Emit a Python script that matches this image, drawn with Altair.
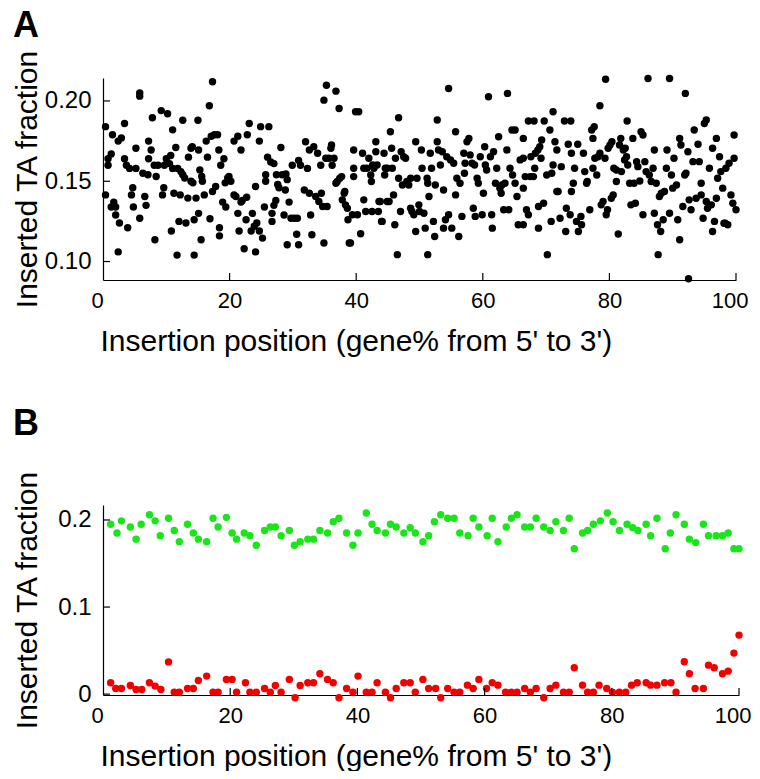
import altair as alt
import pandas as pd

# ---------------- Panel A data (black points) ----------------
a_x = [
    0.4, 0.4, 0.8, 0.8, 1.3, 1.5, 1.7, 2.0, 1.3, 2.0, 2.4, 2.4, 2.9, 2.6, 3.4, 3.4, 3.7, 3.9, 4.2, 4.5,
    4.7, 4.8, 5.2, 5.2, 5.8, 5.8, 5.8, 6.3, 6.6, 6.8, 7.1, 7.2, 7.6, 7.2, 7.8, 8.1, 8.2, 8.4, 8.7, 9.2,
    9.4, 9.6, 9.7, 10.0, 10.2, 10.5, 10.7, 10.8, 11.0, 11.0, 11.2, 11.5, 11.7, 11.8, 12.0, 12.2, 12.3, 12.6, 12.6, 12.9,
    13.1, 13.4, 13.5, 13.9, 13.9, 14.1, 14.2, 14.4, 14.4, 14.7, 15.0, 15.1, 15.1, 15.3, 15.5, 15.6, 15.7, 16.0, 16.3, 16.5,
    16.8, 16.9, 17.1, 17.3, 17.3, 17.6, 17.8, 18.1, 18.3, 18.4, 18.4, 18.6, 18.9, 19.1, 19.3, 19.4, 19.7, 19.9, 20.2, 20.7,
    20.7, 21.0, 21.3, 21.3, 21.5, 21.8, 21.8, 22.0, 22.3, 22.6, 22.7, 22.8, 23.1, 23.4, 23.6, 23.9, 24.1, 24.1, 24.3, 24.7,
    24.7, 24.9, 25.2, 25.5, 25.7, 25.7, 26.0, 26.2, 26.5, 26.7, 26.7, 27.0, 27.0, 27.3, 27.4, 27.6, 27.8, 28.1, 28.3, 28.6,
    28.8, 28.9, 29.1, 29.1, 29.4, 29.7, 29.9, 30.2, 30.6, 30.7, 30.9, 30.9, 31.2,
    31.8, 32.0, 32.3, 32.6, 32.6, 32.8, 33.0, 33.3, 33.6, 33.9, 34.1, 34.4, 34.5, 34.7, 34.9, 34.9, 35.2, 35.3, 35.4, 35.7,
    36.0, 36.1, 36.2, 36.5, 36.8, 36.8, 37.0, 37.3, 37.4, 37.7, 37.8, 38.1, 38.2, 38.3, 38.6, 38.7, 38.9, 39.1, 39.4, 39.6,
    39.6, 39.6, 39.9, 40.2, 40.4, 40.7, 41.0, 41.2, 41.2, 41.5, 41.7, 42.0, 42.3, 42.4, 42.5, 42.6, 42.8, 43.1, 43.1, 43.3,
    43.5, 43.6, 43.8, 44.0, 44.1, 44.4, 44.5, 44.6, 44.9, 44.9, 45.2, 45.4, 45.6, 45.7, 45.9, 46.1, 46.2, 46.5, 46.7, 46.7,
    47.0, 47.1, 47.3, 47.5, 47.8, 48.0, 48.3, 48.6, 48.6, 48.8, 49.1, 49.4, 49.4, 49.6, 49.9, 50.0, 50.3, 50.4, 50.7, 50.9,
    51.2, 51.3, 51.3, 51.5, 51.7, 51.9, 52.2, 52.4, 52.5, 52.8, 52.8, 53.0, 53.3, 53.6, 53.8, 53.8, 54.1, 54.3, 54.6, 54.6,
    54.9, 55.1, 55.4, 55.7, 55.7, 55.9, 56.2, 56.4, 56.7, 57.0, 57.1, 57.2, 57.5, 57.8, 58.0, 58.3, 58.5, 58.7, 58.8, 59.1,
    59.3, 59.6, 59.9, 60.1, 60.3, 60.4, 60.6, 60.9, 61.2, 61.4, 61.5, 61.7, 62.0, 62.2, 62.5, 62.7, 62.9, 63.0, 63.3, 63.5,
    63.8, 63.9, 64.1, 64.3, 64.6, 64.7, 65.1, 65.1, 65.4, 65.6, 65.9,
    66.4, 66.4, 66.4, 66.4, 66.7, 66.9, 67.2, 67.2, 67.5, 67.6, 68.0, 68.1, 68.2, 68.3, 68.7, 68.8, 68.8, 69.0, 69.2, 69.3,
    69.6, 69.7, 70.1, 70.2, 70.6, 70.8, 70.9, 71.1, 71.1, 71.4, 71.7, 71.7, 71.9, 72.2, 72.4, 72.9, 73.1, 73.2, 73.5, 73.8,
    73.9, 74.0, 74.0, 74.3, 74.5, 74.8, 75.0, 75.1, 75.5, 75.6, 75.9, 76.1, 76.4, 76.5, 76.9, 77.2, 77.4, 77.4, 77.6, 77.7,
    78.0, 78.2, 78.5, 78.5, 78.7, 79.0, 79.3, 79.4, 79.5, 79.7, 79.8, 80.1, 80.3, 80.4, 80.6, 80.7, 81.1, 81.1, 81.4, 81.6,
    81.8, 81.9, 82.2, 82.4, 82.5, 82.7, 82.8, 82.9, 83.2, 83.4, 83.7, 83.9, 84.1, 84.3, 84.5, 84.8, 85.0, 85.3, 85.3, 85.6,
    85.8, 86.1, 86.3, 86.6, 86.9, 87.1, 87.1, 87.4, 87.6, 87.7, 87.9, 88.1, 88.2, 88.5, 88.7, 89.0, 89.1, 89.5, 89.5, 89.8,
    90.0, 90.2, 90.6, 90.8, 91.1, 91.1, 91.3, 91.6, 91.9, 92.0, 92.1, 92.4, 92.5, 92.6, 92.9, 93.2, 93.4, 93.7, 94.0, 94.2,
    94.5, 94.5, 94.8, 95.0, 95.3, 95.3, 95.5, 95.8, 96.1, 96.3, 96.3, 96.6, 96.9, 96.9, 97.1, 97.4, 97.6, 97.9, 98.1, 98.3,
    98.4, 98.7, 98.9, 99.2, 99.5, 99.7, 99.7, 100.0,
]
a_y = [
    0.184, 0.1415, 0.164, 0.160, 0.167, 0.179, 0.137, 0.134, 0.134, 0.129, 0.106, 0.175, 0.177, 0.124, 0.186, 0.164, 0.160, 0.121, 0.158, 0.1415,
    0.146, 0.134, 0.158, 0.1705, 0.205, 0.203, 0.127, 0.155, 0.1405, 0.135, 0.154, 0.175, 0.1695, 0.164, 0.1895, 0.160, 0.1136, 0.153, 0.160, 0.194,
    0.1415, 0.146, 0.160, 0.164, 0.192, 0.161, 0.166, 0.119, 0.158, 0.182, 0.1425, 0.171, 0.104, 0.158, 0.125, 0.1415, 0.156, 0.188, 0.154, 0.152,
    0.124, 0.1395, 0.165, 0.1705, 0.150, 0.1715, 0.149, 0.126, 0.104, 0.1395, 0.188, 0.1695, 0.130, 0.157, 0.1136, 0.153, 0.150, 0.1415, 0.175, 0.165,
    0.197, 0.1266, 0.178, 0.212, 0.1436, 0.179, 0.1467, 0.179, 0.1695, 0.121, 0.116, 0.160, 0.137, 0.164, 0.149, 0.134, 0.152, 0.153, 0.150, 0.175,
    0.1415, 0.1405, 0.178, 0.130, 0.119, 0.1695, 0.137, 0.138, 0.108, 0.126, 0.140, 0.179, 0.186, 0.119, 0.130, 0.122, 0.106, 0.1467, 0.124, 0.175,
    0.119, 0.184, 0.1146, 0.134, 0.154, 0.150, 0.165, 0.184, 0.162, 0.130, 0.125, 0.161, 0.135, 0.138, 0.154, 0.148, 0.146, 0.171, 0.154, 0.129,
    0.1446, 0.1545, 0.1105, 0.151, 0.137, 0.127, 0.160, 0.127, 0.117, 0.127, 0.1105, 0.163, 0.160,
    0.1446, 0.1746, 0.158, 0.1695, 0.1425, 0.129, 0.1167, 0.1715, 0.1405, 0.1674, 0.1374, 0.160, 0.1425, 0.1343, 0.1115, 0.2005, 0.1643, 0.2098, 0.1343, 0.1643,
    0.1705, 0.1726, 0.160, 0.1643, 0.2061, 0.1488, 0.1498, 0.1953, 0.1519, 0.1529, 0.1384, 0.1425, 0.1436, 0.1353, 0.1332, 0.126, 0.1115, 0.1115, 0.1291, 0.1695,
    0.1581, 0.1529, 0.1933, 0.1291, 0.1933, 0.1173, 0.1674, 0.1384, 0.1581, 0.1312, 0.1581, 0.1643, 0.1539, 0.1498, 0.1312, 0.1601, 0.1581, 0.1746, 0.1684, 0.1601,
    0.1312, 0.1374, 0.1374, 0.125, 0.125, 0.1674, 0.1539, 0.1581, 0.1581, 0.1374, 0.1374, 0.1808, 0.1705, 0.1581, 0.1415, 0.1229, 0.1643, 0.1043, 0.1895, 0.1519,
    0.1312, 0.1684, 0.1477, 0.1653, 0.1643, 0.1498, 0.1477, 0.1519, 0.1332, 0.1312, 0.1291, 0.1746, 0.1187, 0.1519, 0.1353, 0.1312, 0.1695, 0.1581, 0.1301, 0.1208,
    0.1519, 0.1488, 0.1043, 0.1405, 0.1674, 0.1581, 0.125, 0.1156, 0.1477, 0.1881, 0.1746, 0.1695, 0.1601, 0.1684, 0.1446, 0.1208, 0.126, 0.1653, 0.2078, 0.1291,
    0.1633, 0.1208, 0.1612, 0.1808, 0.1415, 0.1519, 0.1156, 0.1488, 0.1281, 0.1674, 0.155, 0.1612, 0.1746, 0.1767, 0.1664, 0.1612, 0.1332, 0.1601, 0.1281, 0.1519,
    0.1488, 0.1653, 0.1291, 0.1425, 0.1715, 0.1601, 0.157, 0.2026, 0.1653, 0.1291, 0.1208, 0.1684, 0.1488, 0.1581, 0.1777, 0.1457, 0.1425, 0.1477, 0.1322, 0.1488,
    0.1695, 0.2047, 0.1322, 0.1581, 0.1819, 0.1539, 0.1819, 0.1488, 0.1405, 0.1229, 0.1633,
    0.1767, 0.1643, 0.1457, 0.1229, 0.1529, 0.1322, 0.1291, 0.1875, 0.1529, 0.1653, 0.1529, 0.1875, 0.1581, 0.1674, 0.1695, 0.1208, 0.1343, 0.1715, 0.1643, 0.1757,
    0.1363, 0.1875, 0.1539, 0.1043, 0.1819, 0.125, 0.155, 0.1601, 0.1933, 0.1746, 0.1695, 0.1436, 0.1436, 0.127, 0.1591, 0.1875, 0.1187, 0.1332, 0.173, 0.1291,
    0.1875, 0.1674, 0.1436, 0.1488, 0.1581, 0.125, 0.173, 0.1187, 0.1281, 0.1229, 0.1674, 0.156, 0.1488, 0.1498, 0.1322, 0.1819, 0.1581, 0.1767, 0.1839, 0.1643,
    0.1539, 0.1653, 0.197, 0.1674, 0.1353, 0.1374, 0.1643, 0.2135, 0.1291, 0.1322, 0.1705, 0.1726, 0.1394, 0.1746, 0.1415, 0.1581, 0.157, 0.1498, 0.1171, 0.1726,
    0.1767, 0.156, 0.1695, 0.1633, 0.1705, 0.1653, 0.1875, 0.1601, 0.1488, 0.1353, 0.1767, 0.1488, 0.1363, 0.1622, 0.1591, 0.1502, 0.1808, 0.1788, 0.1291, 0.1622,
    0.156, 0.214, 0.1539, 0.1498, 0.1581, 0.1695, 0.1301, 0.1488, 0.1229, 0.1043, 0.1405, 0.1187, 0.1425, 0.126, 0.1436, 0.1581, 0.1695, 0.214, 0.1301, 0.1539,
    0.1457, 0.1643, 0.1477, 0.126, 0.1767, 0.1136, 0.1726, 0.1343, 0.1539, 0.2047, 0.155, 0.1684, 0.0893, 0.1384, 0.1322, 0.1622, 0.1819, 0.1394, 0.173, 0.1622,
    0.1488, 0.1415, 0.127, 0.186, 0.1374, 0.1881, 0.1332, 0.1581, 0.1353, 0.1705, 0.1187, 0.125, 0.1767, 0.1394, 0.1519, 0.1653, 0.156, 0.1457, 0.1239, 0.1239,
    0.1581, 0.1229, 0.1612, 0.1415, 0.1363, 0.1788, 0.1643, 0.1322,
]

# ---------------- Panel B data ----------------
g_x = [
    1.2, 2.2, 2.9, 4.3, 5.2, 6.0, 7.3, 8.2, 9.0, 10.3, 11.2, 12.0, 13.3, 14.2, 15.0, 16.3, 17.3, 18.1, 19.4, 20.3,
    21.0, 22.2, 23.1, 24.1, 25.4, 26.3, 27.1, 28.0, 29.3, 30.1, 31.0, 32.2, 33.1, 34.1, 35.3, 36.2, 37.1, 38.3, 39.3, 40.1,
    41.4, 42.3, 43.1, 44.4, 45.2, 46.1, 47.3, 48.3, 49.1, 50.3, 51.2,
    52.1, 53.1, 54.2, 55.2, 56.1, 57.4, 58.2, 59.1, 60.4, 61.2, 62.1, 63.4, 64.2, 65.1, 66.3, 67.2, 68.1, 69.3, 70.3, 71.2,
    72.4, 73.3, 74.1, 75.4, 76.2, 77.1, 78.2, 79.3, 80.2, 81.2, 82.4, 83.3, 84.1, 85.4, 86.1, 87.1, 88.4, 89.2, 90.1, 91.4,
    92.2, 93.2, 94.4, 95.2, 96.4, 97.4, 98.3, 99.2, 100.0,
]
g_y = [
    0.195, 0.185, 0.199, 0.192, 0.178, 0.195, 0.206, 0.199, 0.182, 0.202, 0.188, 0.175, 0.195, 0.185, 0.178, 0.175, 0.202, 0.192, 0.203, 0.185,
    0.178, 0.185, 0.182, 0.171, 0.188, 0.192, 0.192, 0.182, 0.188, 0.171, 0.175, 0.178, 0.178, 0.188, 0.185, 0.198, 0.202, 0.185, 0.171, 0.185,
    0.208, 0.195, 0.188, 0.185, 0.195, 0.192, 0.185, 0.191, 0.185, 0.175, 0.182,
    0.198, 0.206, 0.202, 0.202, 0.185, 0.182, 0.202, 0.192, 0.182, 0.202, 0.175, 0.192, 0.202, 0.206, 0.192, 0.192, 0.202, 0.192, 0.188, 0.198,
    0.188, 0.202, 0.167, 0.185, 0.188, 0.195, 0.199, 0.208, 0.198, 0.188, 0.195, 0.191, 0.188, 0.195, 0.182, 0.202, 0.167, 0.185, 0.206, 0.195,
    0.178, 0.174, 0.195, 0.182, 0.182, 0.182, 0.185, 0.167, 0.167,
]
r_x = [
    1.2, 2.0, 2.9, 4.3, 5.2, 6.1, 7.3, 8.2, 9.1, 10.3, 11.2, 12.0, 13.3, 14.2, 15.0, 16.3, 17.3, 18.1, 19.4, 20.3,
    21.0, 22.4, 23.1, 24.1, 25.4, 26.3, 27.1, 28.0, 29.3, 30.2, 31.0, 32.2, 33.1, 34.1, 35.3, 36.2, 37.1, 38.3, 39.3, 40.1,
    41.4, 42.3, 43.1, 44.4, 45.2, 46.1, 47.3, 48.3, 49.1, 50.3, 51.2,
    52.3, 53.1, 54.2, 55.2, 56.1, 57.3, 58.2, 59.1, 60.3, 61.2, 62.1, 63.3, 64.2, 65.1, 66.3, 67.2, 68.1, 69.3, 70.3, 71.2,
    72.4, 73.3, 74.1, 75.4, 76.2, 77.1, 78.0, 79.2, 80.1, 81.2, 82.2, 83.1, 84.0, 85.4, 86.1, 87.1, 88.3, 89.3, 90.1, 91.4,
    92.2, 93.1, 94.4, 95.2, 96.1, 97.4, 98.3, 99.2, 100.0,
]
r_y = [
    0.013, 0.0065, 0.0065, 0.010, 0.0054, 0.0054, 0.013, 0.0092, 0.0054, 0.037, 0.0023, 0.0023, 0.0065, 0.0065, 0.0157, 0.0207, 0.0023, 0.0023, 0.0169, 0.0169,
    0.0023, 0.013, 0.0023, 0.0023, 0.0065, 0.0023, 0.010, 0.0023, 0.0169, -0.0042, 0.010, 0.013, 0.013, 0.0234, 0.0169, 0.013, -0.0042, 0.0065, 0.0023, 0.0207,
    0.0023, 0.0023, 0.013, 0.0023, -0.0042, 0.0065, 0.013, 0.013, 0.0023, 0.0169, 0.0065,
    0.0065, -0.0042, 0.0065, 0.0023, 0.0023, 0.0103, 0.0065, 0.0169, 0.0065, 0.013, 0.0103, 0.0023, 0.0023, 0.0023, 0.0065, 0.0023, 0.0065, -0.0042, 0.0065, 0.0103,
    0.0023, 0.0023, 0.0303, 0.0103, 0.0023, 0.0023, 0.0103, 0.0065, 0.0023, 0.0023, 0.0023, 0.0103, 0.013, 0.013, 0.0103, 0.0103, 0.013, 0.013, 0.0023, 0.0372,
    0.0234, 0.0065, 0.0065, 0.0333, 0.0303, 0.0234, 0.0264, 0.0471, 0.0678,
]

x_ticks = [0, 20, 40, 60, 80, 100]
a_y_ticks = [0.10, 0.15, 0.20]
b_y_ticks = [0, 0.1, 0.2]

X_TITLE = "Insertion position (gene% from 5' to 3')"
Y_TITLE = "Inserted TA fraction"
FONT = "Liberation Sans"
GREEN = "#19e619"
RED = "#f20000"

df_a = pd.DataFrame({"x": a_x, "y": a_y})
df_b = pd.concat([
    pd.DataFrame({"x": g_x, "y": g_y, "s": "green"}),
    pd.DataFrame({"x": r_x, "y": r_y, "s": "red"}),
])

TICK_LEN = 7


def x_axis():
    return alt.Axis(values=x_ticks, format="d", title=X_TITLE, titleAnchor="start",
                    titleAlign="left", titleX=-3, labelPadding=10, titlePadding=15,
                    labelFontSize=22, labelFlush=True, labelFlushOffset=12)


def y_axis(yticks, yfmt, pad):
    return alt.Axis(values=yticks, format=yfmt, title=Y_TITLE, labelPadding=12,
                    labelFontSize=24, titlePadding=pad, labelFlush=False)


def panel(df, width, height, ydom, yticks, yfmt, ytitle_pad, color_enc, label, label_offset):
    xs = alt.Scale(domain=[0, 100], nice=False, zero=False)
    ys = alt.Scale(domain=ydom, nice=False, zero=False)
    pts = alt.Chart(df).mark_circle(size=55, opacity=1).encode(
        x=alt.X("x:Q", scale=xs, axis=x_axis(), title=X_TITLE),
        y=alt.Y("y:Q", scale=ys, axis=y_axis(yticks, yfmt, ytitle_pad), title=Y_TITLE),
        color=color_enc,
    )
    xt = alt.Chart(pd.DataFrame({"x": x_ticks[1:]})).mark_rule(color="black", strokeWidth=1.2).encode(
        x=alt.X("x:Q", scale=xs, axis=x_axis(), title=X_TITLE),
        y=alt.value(height), y2=alt.value(height - TICK_LEN),
    )
    yt = alt.Chart(pd.DataFrame({"y": yticks})).mark_rule(color="black", strokeWidth=1.2).encode(
        y=alt.Y("y:Q", scale=ys, axis=y_axis(yticks, yfmt, ytitle_pad), title=Y_TITLE),
        x=alt.value(0), x2=alt.value(TICK_LEN),
    )
    return alt.layer(pts, xt, yt).properties(
        width=width, height=height,
        title=alt.TitleParams(label, anchor="start", frame="group", dx=-90, fontSize=36,
                              fontWeight="bold", font=FONT, color="black", baseline="alphabetic",
                              offset=label_offset),
    )


chart_a = panel(df_a, 633, 202, [0.0885, 0.2143], a_y_ticks, ".2f", 2,
                alt.value("black"), "A", -24)
chart_b = panel(df_b, 636, 190, [-0.001, 0.2172], b_y_ticks, ".1~f", 15,
                alt.Color("s:N", scale=alt.Scale(domain=["green", "red"], range=[GREEN, RED]), legend=None),
                "B", -1)

chart = alt.vconcat(chart_a, chart_b, spacing=50).properties(
    padding={"left": 4, "top": 0, "right": 0, "bottom": 0}
).configure_view(
    stroke=None
).configure_axis(
    labelFont=FONT, titleFont=FONT, labelFontSize=22, titleFontSize=30, titleFontWeight="normal",
    labelColor="black", titleColor="black", domainColor="black", domainWidth=1.2,
    ticks=False, tickSize=0, grid=False,
)

chart.save("out.html", embed_options={"renderer": "svg", "actions": False})
